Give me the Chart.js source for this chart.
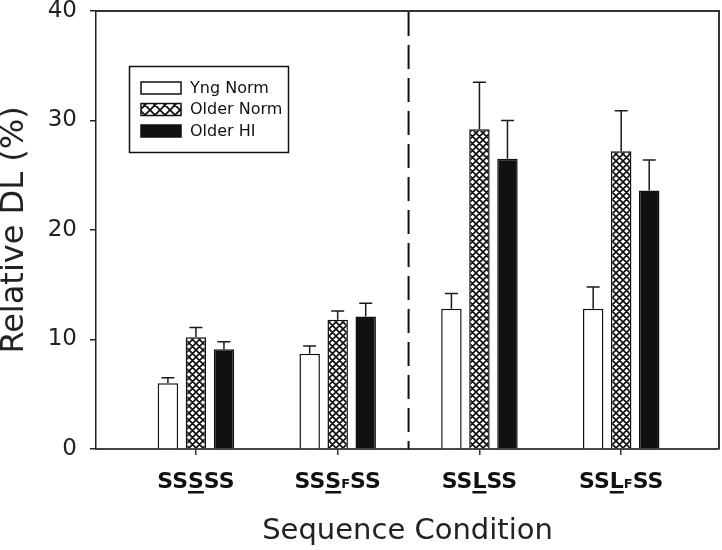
<!DOCTYPE html>
<html>
<head>
<meta charset="utf-8">
<title>Relative DL</title>
<script src="https://cdn.jsdelivr.net/npm/chart.js@4"></script>
<style>
  html, body { margin: 0; padding: 0; background: #fff; }
</style>
</head>
<body>
<canvas id="chart" width="722" height="550"></canvas>
<script>
// Datos
// [x] = letra subrayada, {x} = subindice
const categories = ["SS[S]SS", "SS[S]{F}SS", "SS[L]SS", "SS[L]{F}SS"];
const positions = [1, 2, 3, 4];
const seriesNames = ["Yng Norm", "Older Norm", "Older HI"];
const yngNorm = [6.0, 8.7, 12.8, 12.8];
const olderNorm = [10.2, 11.8, 29.2, 27.2];
const olderHI = [9.1, 12.1, 26.5, 23.6];
const yngNormErr = [0.5, 0.7, 1.4, 2.0];
const olderNormErr = [0.9, 0.8, 4.3, 3.7];
const olderHIErr = [0.7, 1.2, 3.5, 2.8];
const yTicks = [0, 10, 20, 30, 40];
const dividerAt = 2.5;

const FONT = "'DejaVu Sans', 'Liberation Sans', Arial, sans-serif";

// Trama cruzada
function makeHatch(size, lw) {
    const c = document.createElement('canvas');
    c.width = c.height = size;
    const g = c.getContext('2d');
    g.fillStyle = '#fff';
    g.fillRect(0, 0, size, size);
    g.strokeStyle = '#111';
    g.lineWidth = lw;
    g.beginPath();
    for (const o of [-size, 0, size]) {
        g.moveTo(o, 0); g.lineTo(o + size, size);
        g.moveTo(o + size, 0); g.lineTo(o, size);
    }
    g.stroke();
    return g.createPattern(c, 'repeat');
}
const hatchBar = makeHatch(7, 1.7);
const hatchLegend = makeHatch(10, 1.8);

const errors = [yngNormErr, olderNormErr, olderHIErr];
const legendFills = ['#fff', hatchLegend, '#111'];

function parseLabel(str) {
    const parts = [];
    const re = /\[([^\]]+)\]|\{([^}]+)\}|([^\[{]+)/g;
    let m;
    while ((m = re.exec(str)) !== null) {
        if (m[1]) parts.push({ t: m[1], u: true });
        else if (m[2]) parts.push({ t: m[2], sub: true });
        else parts.push({ t: m[3] });
    }
    return parts;
}

const extras = {
    id: 'extras',
    afterDatasetsDraw(chart) {
        const { ctx, chartArea: a, scales: { x, y } } = chart;
        ctx.save();

        // Barras de error (solo hacia arriba)
        ctx.strokeStyle = '#1a1a1a';
        ctx.lineWidth = 1.5;
        chart.data.datasets.forEach((ds, di) => {
            const meta = chart.getDatasetMeta(di);
            meta.data.forEach((bar, i) => {
                const top = y.getPixelForValue(ds.data[i] + errors[di][i]);
                ctx.beginPath();
                ctx.moveTo(bar.x, bar.y);
                ctx.lineTo(bar.x, top);
                ctx.moveTo(bar.x - 6.5, top);
                ctx.lineTo(bar.x + 6.5, top);
                ctx.stroke();
            });
        });

        // Linea divisoria
        const dx = x.getPixelForValue(dividerAt);
        ctx.strokeStyle = '#111';
        ctx.lineWidth = 2;
        ctx.setLineDash([24, 9]);
        ctx.beginPath();
        ctx.moveTo(dx, a.top + 1);
        ctx.lineTo(dx, a.bottom);
        ctx.stroke();
        ctx.setLineDash([]);

        // Marco superior y derecho
        ctx.strokeStyle = '#333';
        ctx.lineWidth = 2;
        ctx.beginPath();
        ctx.moveTo(a.left, a.top);
        ctx.lineTo(a.right, a.top);
        ctx.lineTo(a.right, a.bottom);
        ctx.stroke();

        // Leyenda
        ctx.lineWidth = 1.5;
        ctx.strokeStyle = '#111';
        ctx.strokeRect(129.5, 66.5, 159, 86);
        ctx.font = '16px ' + FONT;
        ctx.textBaseline = 'middle';
        ctx.textAlign = 'left';
        seriesNames.forEach((name, k) => {
            const ry = 82 + k * 21.5;
            ctx.fillStyle = legendFills[k];
            ctx.fillRect(141, ry, 40, 12);
            ctx.strokeRect(141, ry, 40, 12);
            ctx.fillStyle = '#111';
            ctx.fillText(name, 190, ry + 6.5);
        });

        // Etiquetas del eje x con subrayado y subindice
        const big = 'bold 22px ' + FONT;
        const small = 'bold 13px ' + FONT;
        const base = 488;
        ctx.textBaseline = 'alphabetic';
        categories.forEach((lab, i) => {
            const parts = parseLabel(lab);
            let w = 0;
            parts.forEach(p => {
                ctx.font = p.sub ? small : big;
                p.w = ctx.measureText(p.t).width;
                w += p.w;
            });
            let cx = x.getPixelForValue(positions[i]) - w / 2;
            parts.forEach(p => {
                ctx.font = p.sub ? small : big;
                ctx.fillStyle = '#111';
                ctx.fillText(p.t, cx, base);
                if (p.u) ctx.fillRect(cx, base + 3, p.w, 2.5);
                cx += p.w;
            });
        });

        ctx.restore();
    }
};

const ctx = document.getElementById('chart').getContext('2d');
new Chart(ctx, {
    type: 'bar',
    data: {
        labels: positions,
        datasets: [
            { label: seriesNames[0], data: yngNorm, backgroundColor: '#fff', borderColor: '#111', borderWidth: 1.5 },
            { label: seriesNames[1], data: olderNorm, backgroundColor: hatchBar, borderColor: '#111', borderWidth: 1.5 },
            { label: seriesNames[2], data: olderHI, backgroundColor: '#111', borderColor: '#111', borderWidth: 1.5 }
        ]
    },
    options: {
        responsive: false,
        animation: false,
        events: [],
        categoryPercentage: 0.593,
        barPercentage: 0.73,
        layout: { padding: { left: 0, top: 11, right: 3, bottom: 0 } },
        plugins: { legend: { display: false }, tooltip: { enabled: false } },
        scales: {
            x: {
                type: 'linear',
                min: 0.295,
                max: 4.69,
                offset: false,
                afterBuildTicks: s => { s.ticks = positions.map(v => ({ value: v })); },
                afterFit: s => { s.height = 101; s.paddingLeft = 0; s.paddingRight = 0; },
                ticks: { display: false },
                grid: { drawOnChartArea: false, offset: false, tickLength: 6, color: '#333', lineWidth: 1.5 },
                border: { display: true, color: '#444', width: 2 },
                title: {
                    display: true,
                    text: 'Sequence Condition',
                    font: { family: FONT, size: 29, lineHeight: 1 },
                    color: '#222',
                    padding: { top: 0, bottom: 4 }
                }
            },
            y: {
                min: 0,
                max: 40,
                afterBuildTicks: s => { s.ticks = yTicks.map(v => ({ value: v })); },
                afterFit: s => { s.width = 96; s.paddingTop = 0; s.paddingBottom = 0; },
                ticks: { font: { family: FONT, size: 23 }, color: '#222', padding: 13 },
                grid: { drawOnChartArea: false, tickLength: 6, color: '#222', lineWidth: 1.5 },
                border: { display: true, color: '#222', width: 1.5 },
                title: {
                    display: true,
                    text: 'Relative DL (%)',
                    font: { family: FONT, size: 32, lineHeight: 1 },
                    color: '#222',
                    padding: { top: -1, bottom: 0 }
                }
            }
        }
    },
    plugins: [extras]
});
</script>
</body>
</html>
